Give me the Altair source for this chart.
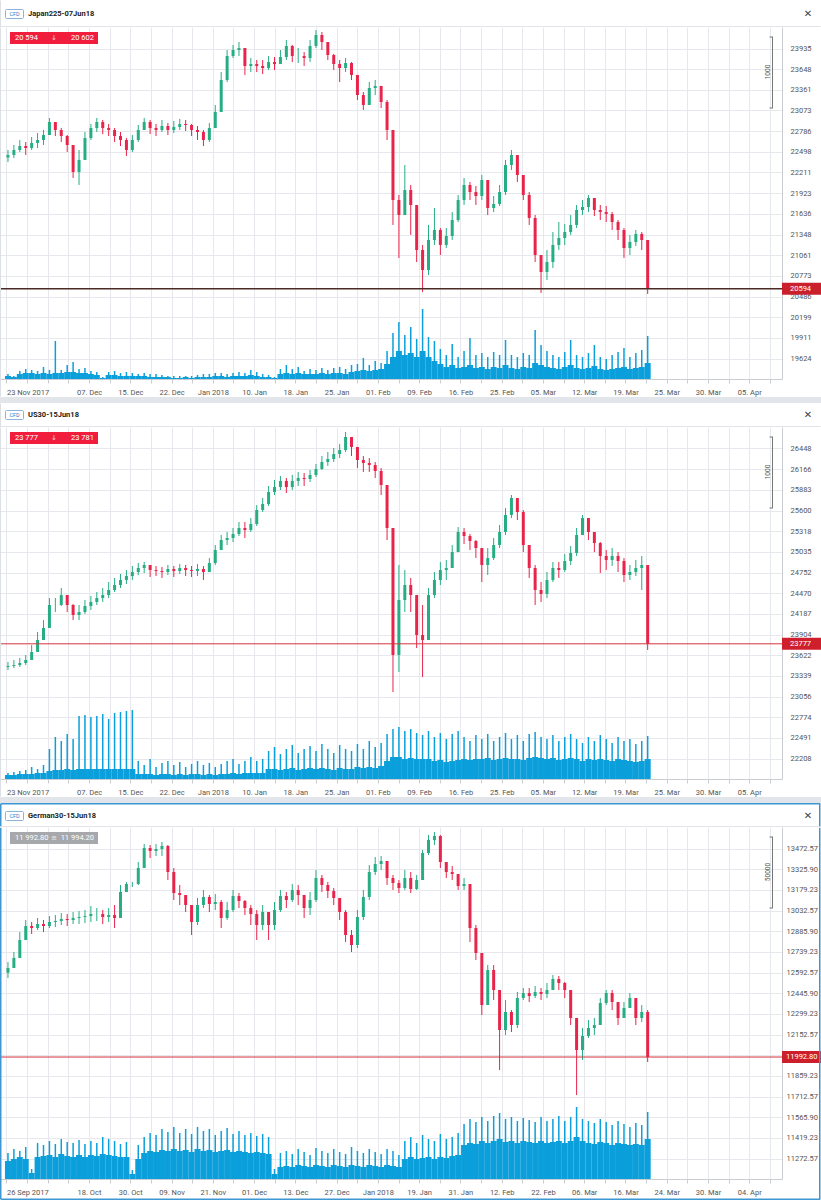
import json
import altair as alt
import pandas as pd

# ---------------------------------------------------------------- style
FONT = "Roboto"
GREEN = "#26ad83"
RED = "#e8244b"
VOL = "#0b9fdb"
GRID = "#e6e8ed"
AXIS = "#c9ccd1"
LBL = "#555555"
BAND = "#e2e5ea"
BLUE = "#3c97d3"

W, H, HDR, FULLW = 782, 352, 27, 821
XMAX = W / 6.0
TICK_K = list(range(38))
TICKS = [(1.5 + 20.9 * k) / 6.0 for k in TICK_K]

# ---------------------------------------------------------------- data
titles = ["Japan225-07Jun18", "US30-15Jun18", "German30-15Jun18"]

date_pos = [0, 4, 6, 8, 10, 12, 14, 16, 18, 20, 22, 24, 26, 28, 30, 32, 34, 36]
dates_nov = ["23 Nov 2017", "07. Dec", "15. Dec", "22. Dec", "Jan 2018", "10. Jan", "18. Jan", "25. Jan",
             "01. Feb", "09. Feb", "16. Feb", "25. Feb", "05. Mar", "12. Mar", "19. Mar", "25. Mar",
             "30. Mar", "05. Apr"]
dates_sep = ["26 Sep 2017", "18. Oct", "30. Oct", "09. Nov", "21. Nov", "01. Dec", "13. Dec", "27. Dec",
             "Jan 2018", "19. Jan", "31. Jan", "12. Feb", "22. Feb", "06. Mar", "16. Mar", "24. Mar",
             "30. Mar", "04. Apr"]

jp_ticks = [23935, 23648, 23361, 23073, 22786, 22498, 22211, 21923, 21636, 21348, 21061, 20773,
            20486, 20199, 19911, 19624]
us_ticks = [26448, 26166, 25883, 25600, 25318, 25035, 24752, 24470, 24187, 23904, 23622, 23339,
            23056, 22774, 22491, 22208]
de_ticks = [13472.57, 13325.90, 13179.23, 13032.57, 12885.90, 12739.23, 12592.57, 12445.90,
            12299.23, 12152.57, 12005.90, 11859.23, 11712.57, 11565.90, 11419.23, 11272.57]

jp_domain = [19339, 24234]
us_domain = [21928, 26742]
de_domain = [11127.1, 13625.2]

# Japan225
jp_open0 = 22420
jp_close = [22454, 22524, 22579, 22551, 22621, 22663, 22732, 22913, 22802, 22718,
            22593, 22218, 22385, 22690, 22829, 22913, 22829, 22802, 22718, 22663,
            22524, 22663, 22802, 22913, 22829, 22802, 22857, 22802, 22843, 22885,
            22871, 22802, 22774, 22663, 22829, 23052, 23497, 23831, 23914, 23942,
            23692, 23719, 23692, 23664, 23747, 23719, 23817, 23970, 23831, 23831,
            23803, 23970, 24123, 24025, 23845, 23719, 23664, 23733, 23567, 23288,
            23149, 23386, 23414, 23191, 22802, 21828, 21620, 21967, 21759, 21133,
            20855, 21272, 21411, 21203, 21328, 21550, 21828, 22037, 21939, 21884,
            22106, 21717, 21773, 21939, 22315, 22454, 22176, 21898, 21578, 21063,
            20827, 20966, 21203, 21300, 21383, 21481, 21689, 21731, 21856, 21689,
            21661, 21634, 21522, 21411, 21161, 21244, 21356, 21272, 20594]
jp_high = [22524, 22593, 22663, 22635, 22704, 22760, 22802, 22969, 22913, 22829,
           22732, 22593, 22524, 22774, 22885, 22969, 22941, 22885, 22829, 22774,
           22690, 22732, 22871, 22969, 22941, 22885, 22941, 22899, 22927, 22955,
           22941, 22885, 22857, 22802, 22899, 23149, 23608, 23914, 23984, 24025,
           23914, 23803, 23775, 23775, 23831, 23817, 23914, 24053, 23984, 23942,
           23886, 24053, 24192, 24165, 24025, 23859, 23775, 23803, 23747, 23553,
           23330, 23469, 23497, 23386, 23219, 22802, 21898, 22315, 22037, 21759,
           21203, 21481, 21717, 21439, 21439, 21661, 21898, 22134, 22079, 22023,
           22176, 22106, 21884, 22037, 22385, 22524, 22454, 22176, 21939, 21620,
           21063, 21133, 21383, 21522, 21495, 21620, 21759, 21828, 21898, 21856,
           21759, 21745, 21661, 21550, 21439, 21342, 21411, 21383, 21272]
jp_low = [22357, 22412, 22496, 22454, 22524, 22551, 22593, 22732, 22718, 22635,
          22496, 22134, 22037, 22385, 22663, 22774, 22746, 22718, 22635, 22579,
          22440, 22496, 22635, 22802, 22746, 22718, 22774, 22732, 22760, 22802,
          22788, 22718, 22663, 22579, 22635, 22829, 23052, 23469, 23803, 23831,
          23567, 23608, 23608, 23580, 23636, 23636, 23719, 23775, 23747, 23733,
          23692, 23747, 23942, 23914, 23775, 23636, 23469, 23608, 23497, 23219,
          23080, 23149, 23288, 23108, 22663, 21481, 21022, 21620, 21342, 20966,
          20549, 20785, 21203, 21063, 21161, 21272, 21522, 21759, 21828, 21759,
          21828, 21620, 21661, 21745, 21898, 22245, 22079, 21828, 21481, 20966,
          20535, 20716, 20883, 21133, 21203, 21342, 21439, 21620, 21661, 21606,
          21550, 21522, 21411, 21272, 21022, 21063, 21189, 21133, 20521]
jp_vol_base = [3, 2, 5, 6, 6, 5, 6, 5, 6, 6,
               7, 7, 6, 6, 5, 4, 1, 4, 4, 3,
               3, 3, 3, 3, 2, 2, 2, 2, 1, 1,
               2, 1, 2, 2, 2, 3, 3, 2, 3, 3,
               3, 4, 3, 2, 2, 1, 5, 6, 5, 6,
               5, 5, 5, 6, 5, 6, 6, 5, 7, 8,
               9, 8, 9, 10, 15, 22, 28, 24, 26, 22,
               28, 22, 18, 15, 12, 14, 11, 12, 14, 11,
               12, 10, 12, 11, 14, 11, 10, 12, 11, 16,
               14, 12, 11, 10, 12, 14, 11, 10, 11, 13,
               10, 9, 10, 11, 12, 10, 11, 12, 16]
jp_vol_peak = [5, 3, 8, 10, 9, 8, 12, 9, 38, 9,
               14, 17, 10, 11, 8, 7, 2, 7, 8, 6,
               7, 6, 5, 6, 5, 5, 4, 3, 3, 3,
               3, 3, 4, 5, 5, 6, 6, 5, 6, 7,
               6, 9, 7, 5, 4, 2, 10, 14, 10, 12,
               8, 10, 9, 11, 9, 11, 12, 10, 14, 15,
               21, 14, 18, 16, 28, 46, 57, 44, 52, 40,
               70, 42, 38, 30, 24, 35, 22, 28, 41, 24,
               26, 22, 27, 24, 39, 24, 22, 26, 24, 49,
               34, 28, 24, 22, 27, 39, 24, 22, 26, 34,
               22, 20, 24, 27, 31, 22, 26, 29, 43]

# US30
us_open0 = 23460
us_close = [23473, 23487, 23514, 23555, 23665, 23829, 23993, 24308, 24308, 24444,
            24308, 24171, 24212, 24294, 24349, 24403, 24444, 24513, 24581, 24650,
            24704, 24759, 24814, 24855, 24786, 24773, 24759, 24800, 24773, 24814,
            24786, 24773, 24800, 24759, 24882, 25060, 25196, 25224, 25279, 25361,
            25333, 25415, 25607, 25689, 25853, 25921, 26004, 25921, 26004, 26045,
            26031, 26086, 26168, 26263, 26304, 26373, 26427, 26605, 26469, 26291,
            26250, 26222, 26140, 25949, 25361, 23624, 24376, 24581, 24444, 23897,
            23829, 24444, 24650, 24786, 24814, 25032, 25306, 25251, 25183, 25087,
            24855, 24950, 25128, 25306, 25538, 25771, 25579, 25128, 24814, 24513,
            24458, 24650, 24814, 24786, 24909, 25019, 25265, 25497, 25306, 25155,
            24978, 24923, 24978, 24909, 24718, 24759, 24814, 24855, 23777]
us_high = [23528, 23555, 23583, 23624, 23760, 23938, 24102, 24403, 24403, 24540,
           24431, 24321, 24308, 24376, 24431, 24485, 24540, 24622, 24677, 24732,
           24786, 24841, 24882, 24896, 24855, 24841, 24827, 24855, 24841, 24868,
           24855, 24841, 24868, 24841, 24950, 25128, 25265, 25306, 25361, 25443,
           25443, 25497, 25675, 25771, 25935, 26017, 26072, 26045, 26086, 26127,
           26113, 26154, 26236, 26345, 26400, 26455, 26510, 26674, 26592, 26427,
           26345, 26318, 26263, 26181, 25812, 25196, 24855, 24786, 24677, 24444,
           24308, 24540, 24759, 24896, 24923, 25128, 25374, 25361, 25279, 25196,
           25087, 25087, 25224, 25402, 25634, 25812, 25771, 25607, 25128, 24855,
           24622, 24759, 24896, 24896, 25005, 25114, 25361, 25538, 25497, 25265,
           25169, 25060, 25087, 25032, 24950, 24855, 24923, 24978, 24855]
us_low = [23418, 23446, 23460, 23487, 23583, 23719, 23856, 24034, 24212, 24294,
          24212, 24102, 24102, 24184, 24239, 24308, 24349, 24403, 24485, 24540,
          24595, 24650, 24718, 24745, 24691, 24704, 24677, 24718, 24691, 24732,
          24704, 24691, 24704, 24650, 24759, 24855, 25060, 25128, 25169, 25251,
          25224, 25306, 25388, 25579, 25662, 25812, 25880, 25839, 25880, 25935,
          25935, 25990, 26058, 26154, 26209, 26263, 26318, 26400, 26345, 26181,
          26127, 26127, 26045, 25812, 25196, 23118, 23391, 24212, 24212, 23719,
          23323, 23829, 24403, 24581, 24650, 24814, 25032, 25142, 25060, 24950,
          24622, 24718, 24923, 25087, 25265, 25497, 25470, 25032, 24677, 24308,
          24349, 24403, 24622, 24677, 24759, 24855, 24978, 25265, 25196, 25032,
          24745, 24786, 24841, 24759, 24622, 24650, 24704, 24513, 23692]
us_vol_base = [4, 4, 5, 5, 5, 6, 6, 8, 9, 9,
               10, 9, 10, 10, 10, 10, 10, 10, 10, 10,
               10, 10, 5, 5, 5, 4, 5, 5, 4, 5,
               4, 5, 5, 4, 5, 4, 5, 5, 6, 5,
               6, 6, 6, 6, 10, 10, 9, 10, 11, 9,
               10, 11, 10, 11, 10, 9, 11, 10, 10, 12,
               11, 12, 11, 13, 18, 22, 22, 20, 21, 20,
               20, 20, 18, 19, 17, 18, 19, 20, 19, 20,
               20, 21, 19, 20, 21, 20, 20, 19, 21, 22,
               21, 20, 21, 19, 20, 21, 20, 18, 20, 19,
               20, 19, 18, 20, 19, 18, 17, 18, 20]
us_vol_peak = [6, 7, 8, 9, 12, 10, 14, 30, 42, 38,
               45, 40, 63, 64, 62, 63, 65, 60, 66, 67,
               68, 69, 18, 14, 20, 12, 16, 18, 14, 17,
               12, 15, 18, 14, 16, 12, 15, 18, 20, 15,
               18, 22, 18, 20, 28, 32, 25, 30, 34, 26,
               30, 33, 28, 35, 30, 26, 34, 30, 28, 35,
               30, 38, 32, 36, 45, 50, 52, 48, 50, 46,
               44, 48, 42, 46, 40, 45, 48, 42, 38, 44,
               40, 45, 38, 42, 46, 40, 44, 38, 45, 47,
               42, 40, 44, 38, 42, 45, 40, 36, 42, 38,
               44, 40, 36, 42, 38, 40, 35, 38, 43]

# German30
de_open0 = 12590
de_close = [12624.5, 12695.5, 12823.2, 12922.6, 12908.4, 12936.8, 12922.6, 12951.0, 12958.1, 12972.3,
            12965.2, 12979.4, 12986.5, 12993.5, 13007.7, 13007.7, 12986.5, 13000.6, 12979.4, 13163.9,
            13220.7, 13220.7, 13334.2, 13476.1, 13454.9, 13469.0, 13490.3, 13305.8, 13156.8, 13142.6,
            13071.6, 12951.0, 13071.6, 13128.4, 13078.7, 13092.9, 12979.4, 13036.1, 13135.5, 13100.0,
            13050.3, 13007.7, 12929.7, 13021.9, 12929.7, 13036.1, 13135.5, 13107.1, 13178.1, 13142.6,
            13050.3, 13107.1, 13263.2, 13213.6, 13171.0, 13121.3, 13021.9, 12858.7, 12787.7, 12986.5,
            13128.4, 13305.8, 13362.6, 13383.9, 13263.2, 13227.7, 13192.3, 13263.2, 13185.2, 13249.0,
            13440.7, 13532.9, 13561.3, 13376.8, 13305.8, 13291.6, 13206.5, 13220.7, 12908.4, 12731.0,
            12361.9, 12610.3, 12468.4, 12184.5, 12312.2, 12220.0, 12411.6, 12447.1, 12425.8, 12454.2,
            12440.0, 12468.4, 12546.4, 12518.0, 12468.4, 12269.7, 12042.5, 12141.9, 12198.7, 12220.0,
            12376.1, 12447.1, 12383.2, 12269.7, 12340.6, 12411.6, 12269.7, 12312.2, 11992.8]
de_high = [12667.1, 12738.1, 12880.0, 12965.2, 12951.0, 12979.4, 12965.2, 12993.5, 13000.6, 13014.8,
           13007.7, 13021.9, 13029.0, 13036.1, 13064.5, 13050.3, 13036.1, 13050.3, 13071.6, 13213.6,
           13234.8, 13234.8, 13376.8, 13504.5, 13497.4, 13504.5, 13518.7, 13497.4, 13334.2, 13213.6,
           13142.6, 13071.6, 13121.3, 13178.1, 13142.6, 13149.7, 13107.1, 13092.9, 13178.1, 13156.8,
           13107.1, 13071.6, 13036.1, 13071.6, 13021.9, 13092.9, 13178.1, 13163.9, 13220.7, 13213.6,
           13142.6, 13163.9, 13320.0, 13284.5, 13234.8, 13192.3, 13121.3, 13036.1, 12894.2, 13036.1,
           13178.1, 13355.5, 13412.3, 13419.4, 13376.8, 13284.5, 13249.0, 13320.0, 13305.8, 13284.5,
           13461.9, 13568.4, 13589.7, 13568.4, 13355.5, 13348.4, 13277.4, 13263.2, 13213.6, 12929.7,
           12716.8, 12645.8, 12645.8, 12468.4, 12397.4, 12326.4, 12454.2, 12482.6, 12482.6, 12496.8,
           12482.6, 12518.0, 12574.8, 12567.8, 12525.1, 12432.9, 12255.5, 12198.7, 12255.5, 12269.7,
           12411.6, 12468.4, 12468.4, 12361.9, 12383.2, 12447.1, 12397.4, 12361.9, 12326.4]
de_low = [12553.5, 12638.7, 12752.2, 12858.7, 12865.8, 12894.2, 12880.0, 12908.4, 12915.5, 12929.7,
          12922.6, 12936.8, 12936.8, 12943.9, 12951.0, 12958.1, 12936.8, 12951.0, 12908.4, 13036.1,
          13192.3, 13199.4, 13213.6, 13348.4, 13405.2, 13419.4, 13419.4, 13249.0, 13107.1, 13071.6,
          13021.9, 12858.7, 12929.7, 13050.3, 13021.9, 13036.1, 12908.4, 12965.2, 13021.9, 13050.3,
          13000.6, 12929.7, 12823.2, 12894.2, 12823.2, 12894.2, 13021.9, 13050.3, 13092.9, 13071.6,
          12979.4, 13000.6, 13092.9, 13163.9, 13121.3, 13071.6, 12965.2, 12809.0, 12738.1, 12766.4,
          12965.2, 13107.1, 13284.5, 13320.0, 13213.6, 13178.1, 13156.8, 13178.1, 13156.8, 13178.1,
          13249.0, 13426.5, 13497.4, 13334.2, 13263.2, 13249.0, 13178.1, 13178.1, 12809.0, 12681.3,
          12290.9, 12432.9, 12397.4, 11900.6, 12149.0, 12170.3, 12198.7, 12397.4, 12383.2, 12411.6,
          12397.4, 12411.6, 12482.6, 12468.4, 12411.6, 12220.0, 11723.2, 11971.6, 12127.7, 12149.0,
          12220.0, 12361.9, 12326.4, 12220.0, 12269.7, 12340.6, 12220.0, 12241.3, 11957.4]
de_vol_base = [18, 20, 22, 20, 6, 22, 23, 24, 22, 25,
               23, 22, 24, 22, 24, 23, 25, 24, 23, 22,
               22, 5, 20, 26, 28, 27, 29, 28, 30, 28,
               29, 27, 30, 28, 29, 27, 28, 29, 27, 28,
               27, 26, 27, 26, 25, 5, 12, 13, 12, 14,
               13, 12, 14, 13, 12, 14, 13, 12, 14, 13,
               12, 14, 13, 12, 14, 13, 12, 20, 22, 20,
               21, 22, 20, 22, 21, 23, 24, 34, 36, 35,
               38, 36, 38, 40, 37, 38, 36, 38, 37, 36,
               38, 36, 37, 38, 36, 38, 42, 38, 36, 35,
               37, 36, 34, 36, 35, 34, 35, 34, 40]
de_vol_peak = [26, 30, 28, 32, 10, 36, 34, 38, 35, 40,
               37, 36, 39, 35, 38, 36, 42, 40, 38, 35,
               37, 9, 34, 42, 46, 44, 50, 47, 52, 46,
               50, 45, 52, 48, 50, 44, 48, 51, 45, 48,
               44, 46, 43, 45, 42, 10, 26, 28, 25, 30,
               27, 24, 31, 28, 26, 30, 27, 25, 32, 28,
               26, 30, 27, 25, 30, 28, 24, 38, 42, 36,
               44, 40, 38, 45, 40, 42, 46, 55, 60, 57,
               62, 58, 63, 66, 60, 62, 58, 61, 59, 57,
               62, 58, 60, 63, 58, 62, 72, 60, 58, 56,
               60, 57, 54, 58, 55, 52, 56, 54, 67]

# current quotes
jp_last, jp_ask = 20594, 20602
us_last, us_ask = 23777, 23781
de_last, de_ask = 11992.80, 11994.20


# ---------------------------------------------------------------- helpers
def build_df(first_open, close, high, low, vb, vp):
    n = len(close)
    assert len(high) == n and len(low) == n and len(vb) == n and len(vp) == n
    opens = [first_open] + list(close[:-1])
    rows = []
    for i in range(n):
        o, c = opens[i], close[i]
        rows.append({"i": i + 0.5, "open": o, "close": c,
                     "high": max(high[i], o, c), "low": min(low[i], o, c),
                     "dir": "up" if c >= o else "down", "vb": vb[i], "vp": vp[i]})
    return pd.DataFrame(rows)


def label_array(names):
    arr = [""] * len(TICK_K)
    for k, nm in zip(date_pos, names):
        arr[k] = nm
    return arr


def main_panel(df, ydom, yticks, yfmt, ylabpad, dates, last, last_lbl, line_col, line_w,
               cur_col, quote_col, quote_l, quote_sym, quote_r, scale_txt, blue_border):
    labels_js = json.dumps(label_array(dates))
    xaxis = alt.Axis(values=TICKS, labelExpr=f"{labels_js}[round((datum.value * 6 - 1.5) / 20.9)]",
                     labelAlign={"condition": {"test": "datum.value < 1", "value": "left"}, "value": "center"},
                     title=None, grid=True, gridColor=GRID, gridWidth=1, domainColor=AXIS,
                     tickColor=AXIS, tickSize=4, labelPadding=5, labelFont=FONT, labelFontSize=7.5,
                     labelColor=LBL, labelFlush=False, labelOverlap=False, labelBound=False,
                     minExtent=21, maxExtent=21)
    X = alt.X("i:Q", scale=alt.Scale(domain=[0, XMAX], nice=False, zero=False), axis=xaxis)
    ysc = alt.Scale(domain=ydom, nice=False, zero=False)
    yaxis = alt.Axis(orient="right", values=yticks, format=yfmt, title=None, grid=True, gridColor=GRID,
                     ticks=False, domainColor=AXIS, labelPadding=ylabpad, labelFont=FONT,
                     labelFontSize=7.5, labelColor=LBL, labelOverlap=False, minExtent=39, maxExtent=39)

    def Y(f):
        return alt.Y(f + ":Q", scale=ysc, axis=yaxis)

    col = alt.Color("dir:N", scale=alt.Scale(domain=["up", "down"], range=[GREEN, RED]), legend=None)
    base = alt.Chart(df)

    # volume (own scale)
    vsc = alt.Scale(domain=[0, H], nice=False, zero=True)
    vbase = base.mark_bar(size=6, orient="vertical", color=VOL).encode(
        x=X, y=alt.Y("vb:Q", scale=vsc, axis=None))
    vpeak = base.mark_bar(size=1.5, orient="vertical", color=VOL).encode(
        x=X, y=alt.Y("vp:Q", scale=vsc, axis=None))
    vol = alt.layer(vbase, vpeak)

    # candles
    wick = base.mark_rule(strokeWidth=1).encode(x=X, y=Y("low"), y2="high:Q", color=col)
    body = base.mark_bar(size=3, orient="vertical").encode(x=X, y=Y("open"), y2="close:Q", color=col)

    hh = (ydom[1] - ydom[0]) / H * 6
    cur = alt.Chart(pd.DataFrame({"p": [last], "lbl": [last_lbl]}))
    cur_line = cur.mark_rule(color=line_col, strokeWidth=line_w).encode(
        x=alt.value(1), x2=alt.value(782), y=Y("p"))
    cur_box = cur.transform_calculate(top=f"datum.p + {hh}", bot=f"datum.p - {hh}").mark_rect(
        color=cur_col).encode(x=alt.value(782), x2=alt.value(FULLW), y=Y("top"), y2="bot:Q")
    cur_txt = cur.mark_text(align="left", baseline="middle", color="white", font=FONT,
                            fontSize=7.5).encode(x=alt.value(782 + ylabpad), y=Y("p"), text="lbl:N")
    price = alt.layer(wick, body, cur_line, cur_box, cur_txt)

    one = alt.Chart(pd.DataFrame({"a": [0]}))
    deco = [
        one.mark_rect(color=quote_col).encode(x=alt.value(10), x2=alt.value(98),
                                              y=alt.value(5), y2=alt.value(17)),
        one.mark_text(text=quote_l, align="left", baseline="middle", color="white", font=FONT,
                      fontSize=7.5).encode(x=alt.value(15), y=alt.value(11)),
        one.mark_text(text=quote_sym, align="center", baseline="middle", color="white", opacity=0.8,
                      font="DejaVu Sans", fontSize=7).encode(x=alt.value(54), y=alt.value(11)),
        one.mark_text(text=quote_r, align="right", baseline="middle", color="white", font=FONT,
                      fontSize=7.5).encode(x=alt.value(94), y=alt.value(11)),
        one.mark_rule(color="#777777").encode(x=alt.value(772.5), y=alt.value(10), y2=alt.value(81)),
        one.mark_rule(color="#777777").encode(x=alt.value(769.5), x2=alt.value(773), y=alt.value(10)),
        one.mark_rule(color="#777777").encode(x=alt.value(769.5), x2=alt.value(773), y=alt.value(81)),
        one.mark_text(text=scale_txt, angle=270, align="center", baseline="middle", color="#555555",
                      font=FONT, fontSize=6.5).encode(x=alt.value(767.5), y=alt.value(45)),
    ]
    if blue_border:
        deco += [
            one.mark_rule(color=BLUE, strokeWidth=1.5).encode(x=alt.value(0.75), y=alt.value(0.75), y2=alt.value(372.25)),
            one.mark_rule(color=BLUE, strokeWidth=1.5).encode(x=alt.value(819.75), y=alt.value(0.75), y2=alt.value(372.25)),
            one.mark_rule(color=BLUE, strokeWidth=1.5).encode(x=alt.value(0.75), x2=alt.value(820.25), y=alt.value(372.25)),
        ]
    else:
        deco += [
            one.mark_rect(color=BAND).encode(x=alt.value(0), x2=alt.value(FULLW), y=alt.value(370), y2=alt.value(373)),
            one.mark_rule(color="#dcdfe4").encode(x=alt.value(0.5), y=alt.value(0.5), y2=alt.value(369.5)),
        ]
    return alt.layer(vol, price, *deco).resolve_scale(y="independent").properties(width=W, height=H)


def header(title, band, dy, blue_border):
    one = alt.Chart(pd.DataFrame({"a": [0]}))
    layers = []
    if band:
        layers.append(one.mark_rect(color=BAND).encode(x=alt.value(0), x2=alt.value(FULLW),
                                                       y=alt.value(0), y2=alt.value(3)))
    layers += [
        one.mark_rule(color="#e1e3e8").encode(x=alt.value(0.5), x2=alt.value(820.5), y=alt.value(26.5)),
        one.mark_rect(fill="white", stroke="#8db3da", strokeWidth=1, cornerRadius=1).encode(
            x=alt.value(5.5), x2=alt.value(23.5), y=alt.value(9.5 + dy), y2=alt.value(18.5 + dy)),
        one.mark_text(text="CFD", align="center", baseline="middle", color="#3a7bc8", font=FONT,
                      fontSize=5.5).encode(x=alt.value(14.5), y=alt.value(14 + dy)),
        one.mark_text(text=title, align="left", baseline="middle", color="#222222", font=FONT,
                      fontWeight="bold", fontSize=7.5).encode(x=alt.value(28), y=alt.value(14 + dy)),
        one.mark_text(text="✕", align="center", baseline="middle", color="#444444",
                      font="DejaVu Sans", fontSize=10).encode(x=alt.value(808), y=alt.value(14 + dy)),
    ]
    if blue_border:
        layers += [
            one.mark_rule(color=BLUE, strokeWidth=1.5).encode(x=alt.value(0.75), x2=alt.value(820.25), y=alt.value(3.75)),
            one.mark_rule(color=BLUE, strokeWidth=1.5).encode(x=alt.value(0.75), y=alt.value(3.75), y2=alt.value(26.25)),
            one.mark_rule(color=BLUE, strokeWidth=1.5).encode(x=alt.value(819.75), y=alt.value(3.75), y2=alt.value(26.25)),
        ]
    else:
        layers.append(one.mark_rule(color="#dcdfe4").encode(x=alt.value(0.5), y=alt.value(3.5 if band else 0.5),
                                                            y2=alt.value(26.5)))
    return alt.layer(*layers).properties(width=FULLW, height=HDR)


jp_df = build_df(jp_open0, jp_close, jp_high, jp_low, jp_vol_base, jp_vol_peak)
us_df = build_df(us_open0, us_close, us_high, us_low, us_vol_base, us_vol_peak)
de_df = build_df(de_open0, de_close, de_high, de_low, de_vol_base, de_vol_peak)

jp_main = main_panel(jp_df, jp_domain, jp_ticks, "d", 8, dates_nov, jp_last, "20594", "#4b2b25", 1.5,
                     "#c9202c", "#f01e3c", "20 594", "↓", "20 602", "1000", False)
us_main = main_panel(us_df, us_domain, us_ticks, "d", 8, dates_nov, us_last, "23777", "#d4353d", 1,
                     "#cf1f2d", "#f01e3c", "23 777", "↓", "23 781", "1000", False)
de_main = main_panel(de_df, de_domain, de_ticks, ".2f", 4, dates_sep, de_last, "11992.80", "#d4353d", 1,
                     "#cd1f2b", "#a6a8ab", "11 992.80", "≡", "11 994.20", "50000", True)

chart = alt.vconcat(
    header(titles[0], False, 0, False), jp_main,
    header(titles[1], True, 1, False), us_main,
    header(titles[2], True, 2, True), de_main,
    spacing=0,
).properties(padding=0, background="white").configure_view(stroke=None)

chart.save("out.html", embed_options={"renderer": "svg", "actions": False})
